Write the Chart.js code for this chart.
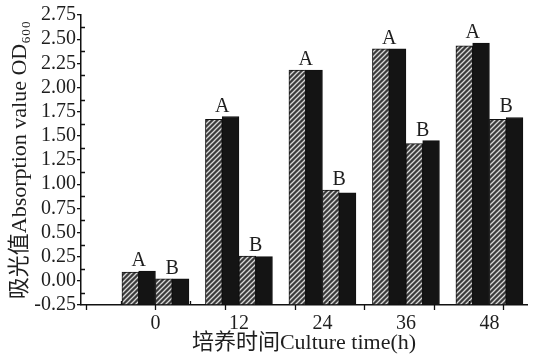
<!DOCTYPE html>
<html lang="zh">
<head>
<meta charset="UTF-8">
<title>Culture time vs OD600</title>
<script src="https://cdn.jsdelivr.net/npm/chart.js"></script>
<style>
  body { margin: 0; background: #fff; }
  #wrap { width: 537px; height: 356px; }
</style>
</head>
<body>
<div id="wrap"><canvas id="odChart" width="537" height="356"></canvas></div>
<script>
// values
const times = [0, 12, 24, 36, 48];
const groupAHatched = [0.09, 1.67, 2.18, 2.40, 2.43];
const groupASolid   = [0.10, 1.70, 2.18, 2.40, 2.46];
const groupBHatched = [0.02, 0.255, 0.94, 1.42, 1.67];
const groupBSolid   = [0.02, 0.25, 0.91, 1.45, 1.69];
const groupLetters = ["A", "B"];

const yMin = -0.25, yMax = 2.75;
const serif = "'Liberation Serif', 'Times New Roman', 'Noto Sans CJK SC', serif";
const ink = "#1e1e1e";

// diagonal hatch for the striped bars
function hatch() {
  const c = document.createElement("canvas");
  c.width = 5; c.height = 5;
  const g = c.getContext("2d");
  g.fillStyle = "#3c3c3c";
  g.fillRect(0, 0, 5, 5);
  g.strokeStyle = "#d8d8d8";
  g.lineWidth = 1.3;
  g.beginPath();
  g.moveTo(-1, 6); g.lineTo(6, -1);
  g.moveTo(-1, 1); g.lineTo(1, -1);
  g.moveTo(4, 6); g.lineTo(6, 4);
  g.stroke();
  return g.createPattern(c, "repeat");
}
const stripes = hatch();

function pts(arr) {
  return arr.map((v, i) => ({ x: times[i], y: v }));
}

function barSet(label, arr, striped) {
  return {
    label: label,
    data: pts(arr),
    base: yMin,
    backgroundColor: striped ? stripes : "#141414",
    borderColor: "#111",
    borderWidth: 1,
    barThickness: 16.75
  };
}

// A / B letters over each pair of bars
const letterPlugin = {
  id: "letters",
  afterDatasetsDraw(chart) {
    const ctx = chart.ctx;
    ctx.save();
    ctx.font = "20px " + serif;
    ctx.fillStyle = ink;
    ctx.textAlign = "center";
    ctx.textBaseline = "alphabetic";
    groupLetters.forEach((letter, g) => {
      const m1 = chart.getDatasetMeta(g * 2).data;
      const m2 = chart.getDatasetMeta(g * 2 + 1).data;
      times.forEach((t, i) => {
        const cx = (m1[i].x + m2[i].x) / 2;
        const top = Math.min(m1[i].y, m2[i].y);
        ctx.fillText(letter, cx, top - 5);
      });
    });
    ctx.restore();
  }
};

// inward minor ticks and the x major ticks
const tickPlugin = {
  id: "tickMarks",
  afterDraw(chart) {
    const { ctx, scales: { x, y } } = chart;
    const bottom = y.getPixelForValue(yMin);
    const left = x.left;
    ctx.save();
    ctx.strokeStyle = "#111";
    ctx.lineWidth = 1.3;
    ctx.beginPath();
    for (let v = -10; v <= 50; v += 5) {
      const px = Math.round(x.getPixelForValue(v)) + 0.5;
      if (v % 10 === 0) {
        ctx.moveTo(px, bottom); ctx.lineTo(px, bottom + 5);
      } else {
        ctx.moveTo(px, bottom); ctx.lineTo(px, bottom - 4);
      }
    }
    for (let v = yMin + 0.125; v < yMax; v += 0.25) {
      const py = Math.round(y.getPixelForValue(v)) + 0.5;
      ctx.moveTo(left, py); ctx.lineTo(left + 4, py);
    }
    ctx.stroke();
    ctx.restore();
  }
};

new Chart(document.getElementById("odChart"), {
  type: "bar",
  data: {
    datasets: [
      barSet("A-1", groupAHatched, true),
      barSet("A-2", groupASolid, false),
      barSet("B-1", groupBHatched, true),
      barSet("B-2", groupBSolid, false)
    ]
  },
  options: {
    responsive: false,
    animation: false,
    layout: { padding: { left: 0, right: 10, top: 15, bottom: 0 } },
    plugins: {
      legend: { display: false },
      tooltip: { enabled: false }
    },
    scales: {
      x: {
        type: "linear",
        min: -10.7,
        max: 53.4,
        offset: false,
        afterBuildTicks: (s) => { s.ticks = times.map(v => ({ value: v })); },
        afterFit: (s) => { s.height = 51; },
        grid: { display: false, offset: false, drawTicks: false, tickLength: 0 },
        border: { display: true, color: "#111", width: 1.5 },
        ticks: {
          color: ink,
          padding: 7,
          maxRotation: 0,
          autoSkip: false,
          font: { family: serif, size: 20 },
          callback: (v) => String(v)
        },
        title: {
          display: true,
          text: "培养时间Culture time(h)",
          color: ink,
          padding: { top: 0, bottom: 0 },
          font: { family: serif, size: 22 }
        }
      },
      y: {
        min: yMin,
        max: yMax,
        afterFit: (s) => { s.width = 81; },
        grid: { drawOnChartArea: false, tickLength: 4, color: "#111", lineWidth: 1.3 },
        border: { display: true, color: "#111", width: 1.5 },
        ticks: {
          stepSize: 0.25,
          autoSkip: false,
          padding: 1,
          color: ink,
          font: { family: serif, size: 20 },
          callback: (v) => v.toFixed(2)
        },
        title: {
          display: true,
          text: "吸光值Absorption value OD₆₀₀",
          color: ink,
          padding: { top: 7, bottom: 0 },
          font: { family: serif, size: 22 }
        }
      }
    }
  },
  plugins: [letterPlugin, tickPlugin]
});
</script>
</body>
</html>
